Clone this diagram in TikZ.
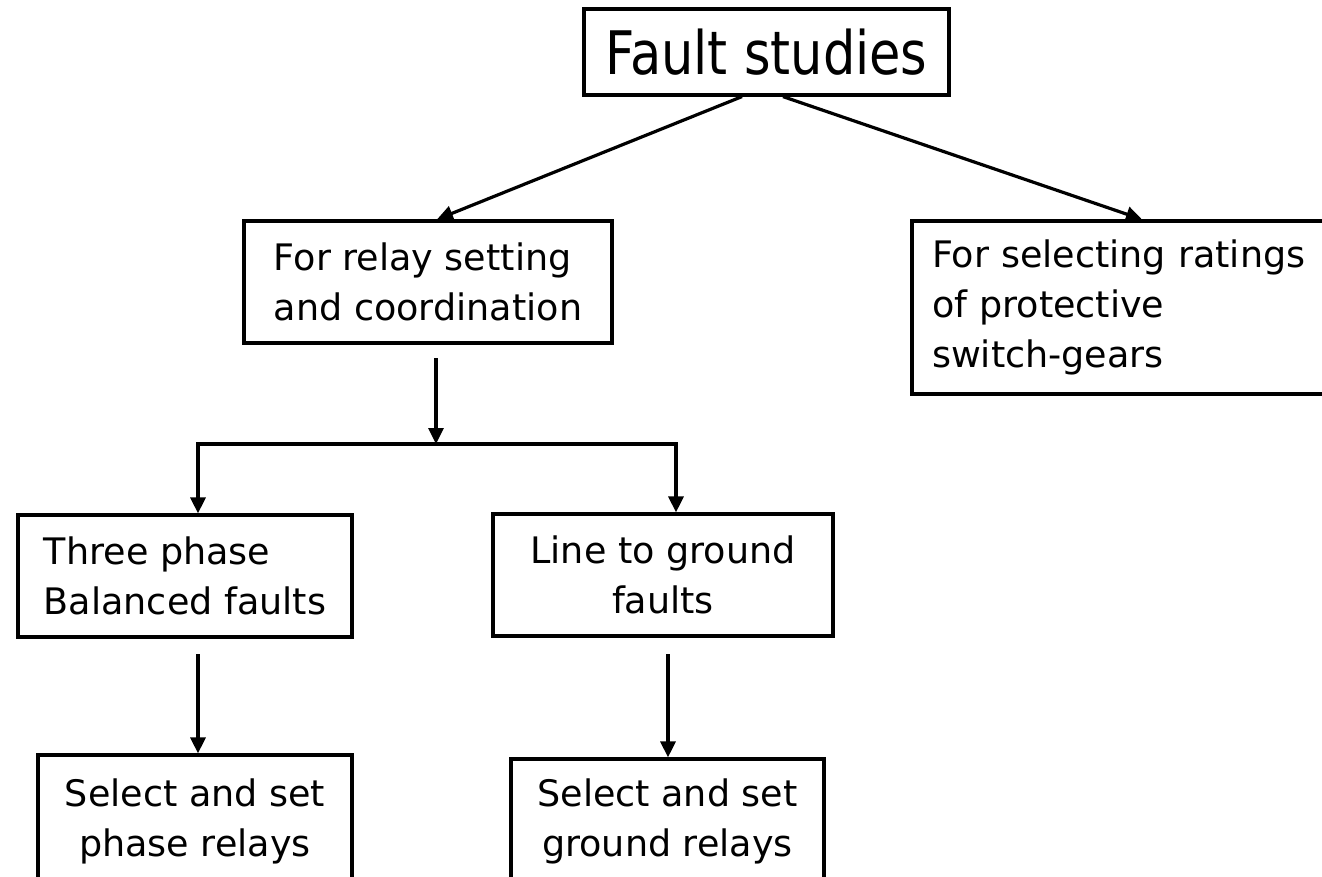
\documentclass[tikz,border=0pt]{standalone}
\usepackage{fontspec}
\setmainfont{DejaVu Sans}
\newfontfamily\titlefont[FakeStretch=0.85]{DejaVu Sans}
\usetikzlibrary{arrows.meta}
\begin{document}
\begin{tikzpicture}[x=1pt,y=-1pt,
  box/.style={draw=black,line width=3.2pt,inner sep=0pt,font=\fontsize{36.5}{50}\selectfont},
  arrow/.style={line width=3.2pt,-{Triangle[length=16pt,width=15pt]}}]
\useasboundingbox (0,0) rectangle (1322,877);
\fill [white] (0,0) rectangle (1322,877);
\clip (0,0) rectangle (1322,877);
\node [box,minimum width=365pt,minimum height=86pt,font=\titlefont\fontsize{60}{66}\selectfont] (fault) at (766.5,52) {Fault studies};
\node [box,minimum width=368pt,minimum height=122pt,align=left] (relay) at (428,282) {For relay setting\\and coordination};
\node [box,inner xsep=20pt,text width=390pt,minimum height=173pt,align=left] (switch) at (1127,307.5) {For selecting ratings\\of protective\\switch-gears};
\node [box,minimum width=334pt,minimum height=122pt,align=left] (three) at (185,576) {Three phase\\Balanced faults};
\node [box,minimum width=340pt,minimum height=122pt,align=center] (line) at (663,575) {Line to ground\\faults};
\node [box,minimum width=314pt,minimum height=133pt,align=center] (sphase) at (195,821.5) {Select and set\\phase relays};
\node [box,minimum width=313pt,minimum height=125pt,align=center] (sground) at (667.5,821.5) {Select and set\\ground relays};
\draw [arrow] ([xshift=-24.5pt]fault.south) -- ([xshift=9pt]relay.north);
\draw [arrow] ([xshift=16.5pt]fault.south) -- ([xshift=15pt]switch.north);
\coordinate (splitfrom) at (436,358);
\coordinate (split) at (436,444);
\coordinate (lbranch) at (198,444);
\coordinate (rbranch) at (676,444);
\draw [arrow] (splitfrom) -- (split);
\draw [arrow] (split) -| (lbranch |- three.north);
\draw [arrow] (split) -| (rbranch |- line.north);
\coordinate (pdown) at (198,654);
\coordinate (gdown) at (668,654);
\draw [arrow] (pdown) -- (pdown |- sphase.north);
\draw [arrow] (gdown) -- (gdown |- sground.north);
\end{tikzpicture}
\end{document}
